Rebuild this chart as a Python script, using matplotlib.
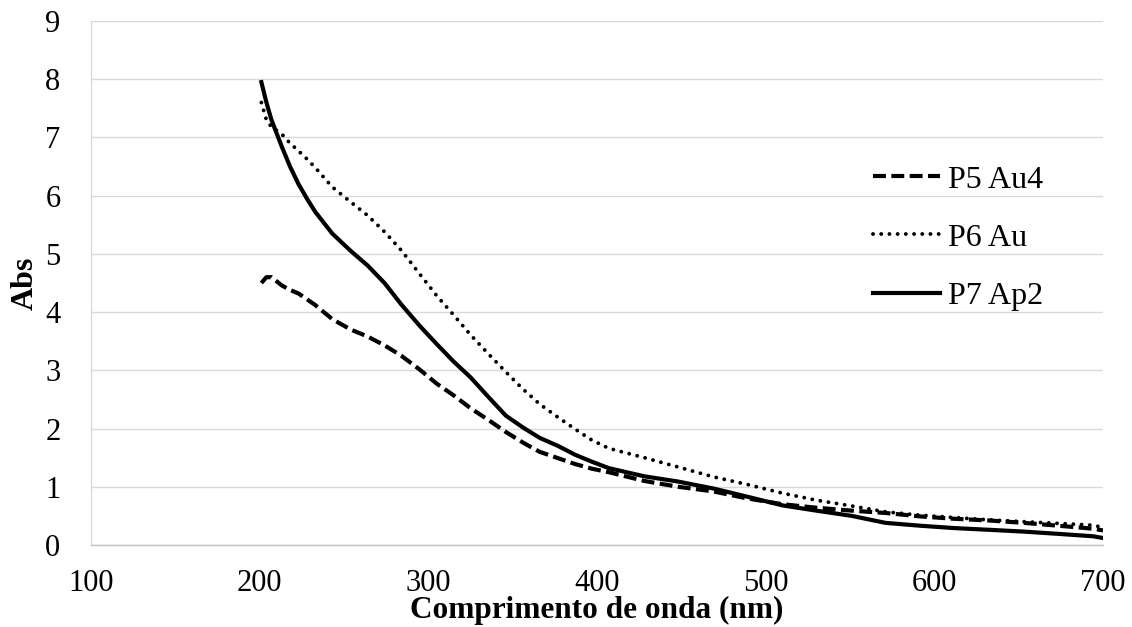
import matplotlib
matplotlib.use("Agg")
import matplotlib.pyplot as plt

plt.rcParams["font.family"] = ["Liberation Serif", "DejaVu Serif"]

# comprimento de onda (nm) e absorbância
wl = [201, 204, 207, 213, 218, 223, 228, 233, 243, 254, 264, 274, 284, 295, 305,
      315, 325, 336, 346, 356, 366, 377, 387, 397, 407, 428, 448, 469, 489, 510,
      530, 551, 571, 592, 612, 633, 653, 674, 694, 700]
p5_au4 = [4.50, 4.60, 4.60, 4.46, 4.38, 4.32, 4.22, 4.12, 3.88, 3.70, 3.58, 3.43,
          3.25, 3.01, 2.77, 2.57, 2.35, 2.14, 1.94, 1.76, 1.60, 1.49, 1.39, 1.31,
          1.25, 1.10, 1.00, 0.92, 0.80, 0.70, 0.64, 0.59, 0.55, 0.49, 0.45, 0.42,
          0.38, 0.33, 0.28, 0.25]
p6_au = [7.60, 7.30, 7.18, 7.06, 6.90, 6.77, 6.63, 6.48, 6.15, 5.89, 5.66, 5.38,
         5.06, 4.65, 4.28, 3.95, 3.61, 3.27, 2.97, 2.68, 2.42, 2.19, 1.99, 1.80,
         1.66, 1.50, 1.34, 1.17, 1.04, 0.89, 0.77, 0.67, 0.57, 0.51, 0.47, 0.43,
         0.40, 0.37, 0.34, 0.30]
p7_ap2 = [7.95, 7.60, 7.30, 6.85, 6.50, 6.20, 5.95, 5.72, 5.35, 5.05, 4.80, 4.50,
          4.13, 3.76, 3.45, 3.15, 2.88, 2.53, 2.22, 2.02, 1.84, 1.70, 1.55, 1.43,
          1.32, 1.18, 1.09, 0.97, 0.83, 0.68, 0.59, 0.50, 0.38, 0.33, 0.29, 0.26,
          0.23, 0.19, 0.15, 0.12]
series = ["P5 Au4", "P6 Au", "P7 Ap2"]
xticks = [100, 200, 300, 400, 500, 600, 700]
yticks = list(range(10))

fig = plt.figure(figsize=(11.32, 6.27), dpi=100)
ax = fig.add_axes([0.0804, 0.1308, 0.894, 0.8357])

ax.plot(wl, p5_au4, color="black", lw=3.0, linestyle=(0, (3.1, 1.3)),
        label=series[0])
ax.plot(wl, p6_au, color="black", lw=2.8, linestyle=(0, (0.01, 2.1)),
        dash_capstyle="round", label=series[1])
ax.plot(wl, p7_ap2, color="black", lw=3.0, label=series[2])

ax.set_xlim(100, 700)
ax.set_ylim(0, 9)
ax.set_xticks(xticks)
ax.set_yticks(yticks)
ax.tick_params(axis="both", length=0, labelsize=22)
ax.tick_params(axis="x", pad=17)
ax.tick_params(axis="y", pad=22)
ax.grid(axis="y", color="#d9d9d9", lw=1.0)
ax.set_axisbelow(True)
for s in ["top", "right"]:
    ax.spines[s].set_visible(False)
ax.spines["left"].set_color("#d9d9d9")
ax.spines["bottom"].set_color("#bfbfbf")
ax.spines["left"].set_linewidth(1.0)
ax.spines["bottom"].set_linewidth(1.0)

ax.set_xlabel("Comprimento de onda (nm)", fontsize=22.5, fontweight="bold", labelpad=-1)
ax.set_ylabel("Abs", fontsize=23, fontweight="bold", labelpad=4)

ax.legend(loc="center left", bbox_to_anchor=(0.773, 0.586), frameon=False,
          fontsize=23, handlelength=2.1, handletextpad=0.25, labelspacing=0.9,
          borderpad=0, borderaxespad=0)

fig.savefig("out.png", dpi=100)
